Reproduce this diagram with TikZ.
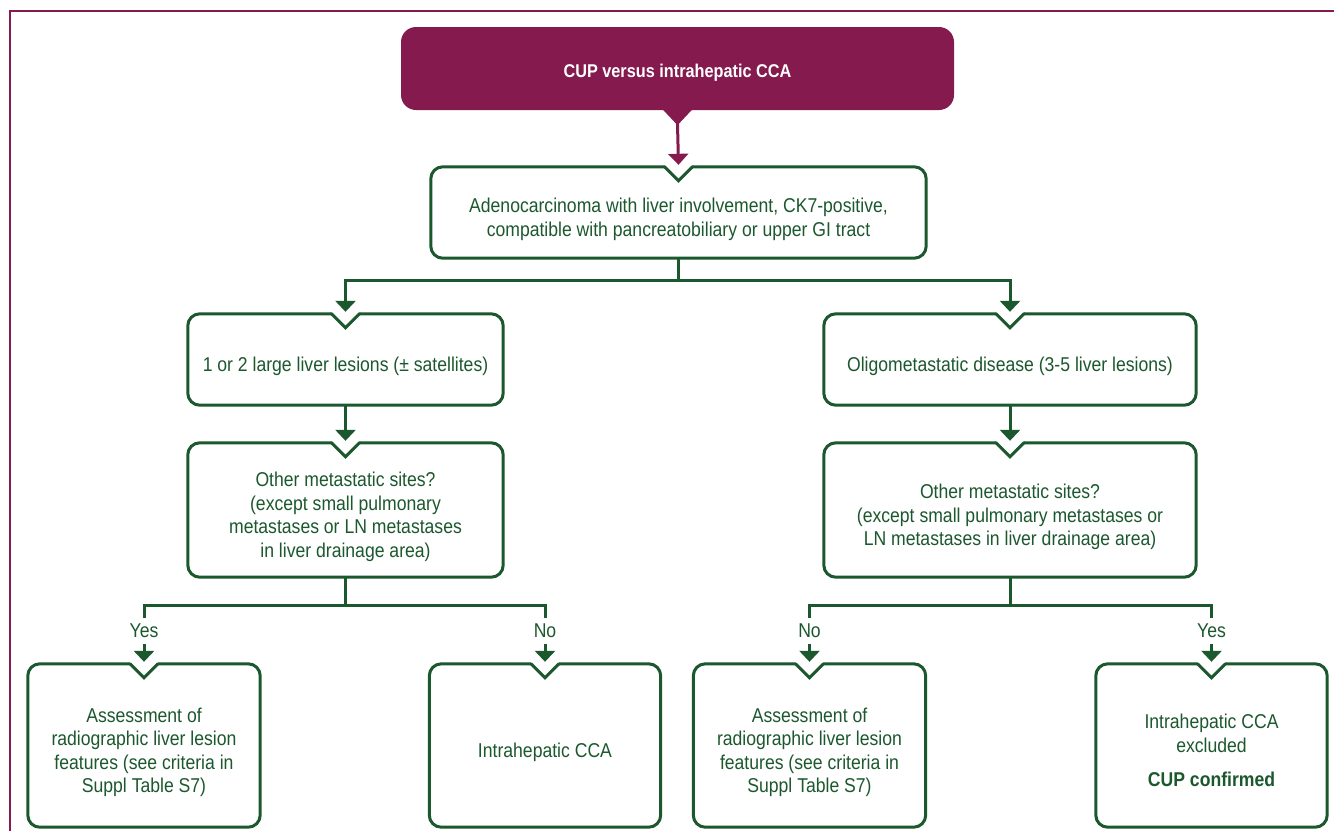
\documentclass[tikz,border=0pt]{standalone}
\usepackage{fontspec}
\setmainfont[FakeStretch=0.88]{Liberation Sans}
\usetikzlibrary{arrows.meta,calc}
\definecolor{cgreen}{RGB}{28,88,46}
\definecolor{cpurple}{RGB}{132,26,78}
\newcommand{\tx}[1]{\raisebox{-7.5pt}[\height][\depth]{\begin{tabular}{@{}c@{}}#1\end{tabular}}}
\newcommand{\notchbox}[1]{%
  \draw[boxline,rounded corners=12pt] ($(#1.north)+(14,0)$) -- (#1.north east) -- (#1.south east) -- (#1.south west) -- (#1.north west) -- ($(#1.north)+(-14,0)$);
  \draw[boxline] ($(#1.north)+(-14,0)$) -- ($(#1.north)+(0,14)$) -- ($(#1.north)+(14,0)$);}
\begin{document}
\begin{tikzpicture}[x=1pt,y=-1pt,line join=miter,
  txt/.style={font=\fontsize{20}{23.5}\selectfont},
  bx/.style={txt,rectangle,inner sep=0pt,text=cgreen,minimum height=#1},
  bx/.default=91pt,
  boxline/.style={cgreen,line width=3pt,line cap=round},
  gline/.style={cgreen,line width=3pt},
  garrow/.style={gline,-{Triangle[width=20pt,length=11pt]}},
  parrow/.style={cpurple,line width=3pt,-{Triangle[width=20pt,length=11pt]}},
  lbl/.style={txt,text=cgreen,inner xsep=2pt,inner ysep=6pt}]
\useasboundingbox (0,0) rectangle (1334,831);
\fill[white] (0,0) rectangle (1334,831);
\draw[cpurple,line width=2.5pt] (10,831) -- (10,11) -- (1334,11);

% title
\node[rectangle,rounded corners=15pt,fill=cpurple,text=white,minimum width=553pt,minimum height=83pt,inner sep=0pt,
  font=\fontsize{18.5}{23.5}\selectfont\bfseries] (T) at (677.5,68.5) {\raisebox{-4pt}[\height][\depth]{CUP versus intrahepatic CCA}};
\fill[cpurple] ($(T.south)+(-15,-1)$) -- ($(T.south)+(15,-1)$) -- ($(T.south)+(0,15)$) -- cycle;

% boxes
\node[bx,minimum width=495pt] (A) at (678.5,212.5) {\tx{Adenocarcinoma with liver involvement, CK7-positive,\\compatible with pancreatobiliary or upper GI tract}};
\node[bx,minimum width=315pt] (B1) at (345.5,359.5) {\tx{1 or 2 large liver lesions (± satellites)}};
\node[bx,minimum width=372pt] (B2) at (1010,359.5) {\tx{Oligometastatic disease (3-5 liver lesions)}};
\node[bx=134pt,minimum width=315pt] (C1) at (345.5,510) {\tx{Other metastatic sites?\\(except small pulmonary\\metastases or LN metastases\\in liver drainage area)}};
\node[bx=134pt,minimum width=372pt] (C2) at (1010,510) {\tx{Other metastatic sites?\\(except small pulmonary metastases or\\LN metastases in liver drainage area)}};
\node[bx=163pt,minimum width=232pt] (D1) at (144,745.5) {\tx{Assessment of\\radiographic liver lesion\\features (see criteria in\\Suppl Table S7)}};
\node[bx=163pt,minimum width=231pt] (D2) at (545,745.5) {\tx{Intrahepatic CCA}};
\node[bx=163pt,minimum width=232pt] (D3) at (809.5,745.5) {\tx{Assessment of\\radiographic liver lesion\\features (see criteria in\\Suppl Table S7)}};
\node[bx=163pt,minimum width=231pt] (D4) at (1211.5,745.5) {\tx{Intrahepatic CCA\\excluded\\[11pt]\textbf{CUP confirmed}}};

\foreach \n in {A,B1,B2,C1,C2,D1,D2,D3,D4} {\notchbox{\n}}

% labels
\node[lbl] (y1) at ($(D1.north)+(0,-33)$) {Yes};
\node[lbl] (n1) at ($(D2.north)+(0,-33)$) {No};
\node[lbl] (n2) at ($(D3.north)+(0,-33)$) {No};
\node[lbl] (y2) at ($(D4.north)+(0,-33)$) {Yes};

% connectors
\draw[parrow] ($(T.south)+(0,14)$) -- ($(A.north)+(0,-2)$);
\coordinate (jA) at ($(A.south)+(0,22)$);
\draw[garrow] (jA) -| ($(B1.north)+(0,-2)$);
\draw[garrow] (jA) -| ($(B2.north)+(0,-2)$);
\draw[gline] (A.south) -- (jA);
\draw[garrow] (B1.south) -- ($(C1.north)+(0,-2)$);
\draw[garrow] (B2.south) -- ($(C2.north)+(0,-2)$);
\coordinate (jC1) at ($(C1.south)+(0,28)$);
\coordinate (jC2) at ($(C2.south)+(0,28)$);
\draw[gline] (C1.south) -- (jC1);
\draw[gline] (C2.south) -- (jC2);
\draw[gline] (jC1) -| (y1.north);
\draw[gline] (jC1) -| (n1.north);
\draw[gline] (jC2) -| (n2.north);
\draw[gline] (jC2) -| (y2.north);
\draw[garrow] (y1.south) -- ($(D1.north)+(0,-2)$);
\draw[garrow] (n1.south) -- ($(D2.north)+(0,-2)$);
\draw[garrow] (n2.south) -- ($(D3.north)+(0,-2)$);
\draw[garrow] (y2.south) -- ($(D4.north)+(0,-2)$);
\end{tikzpicture}
\end{document}
